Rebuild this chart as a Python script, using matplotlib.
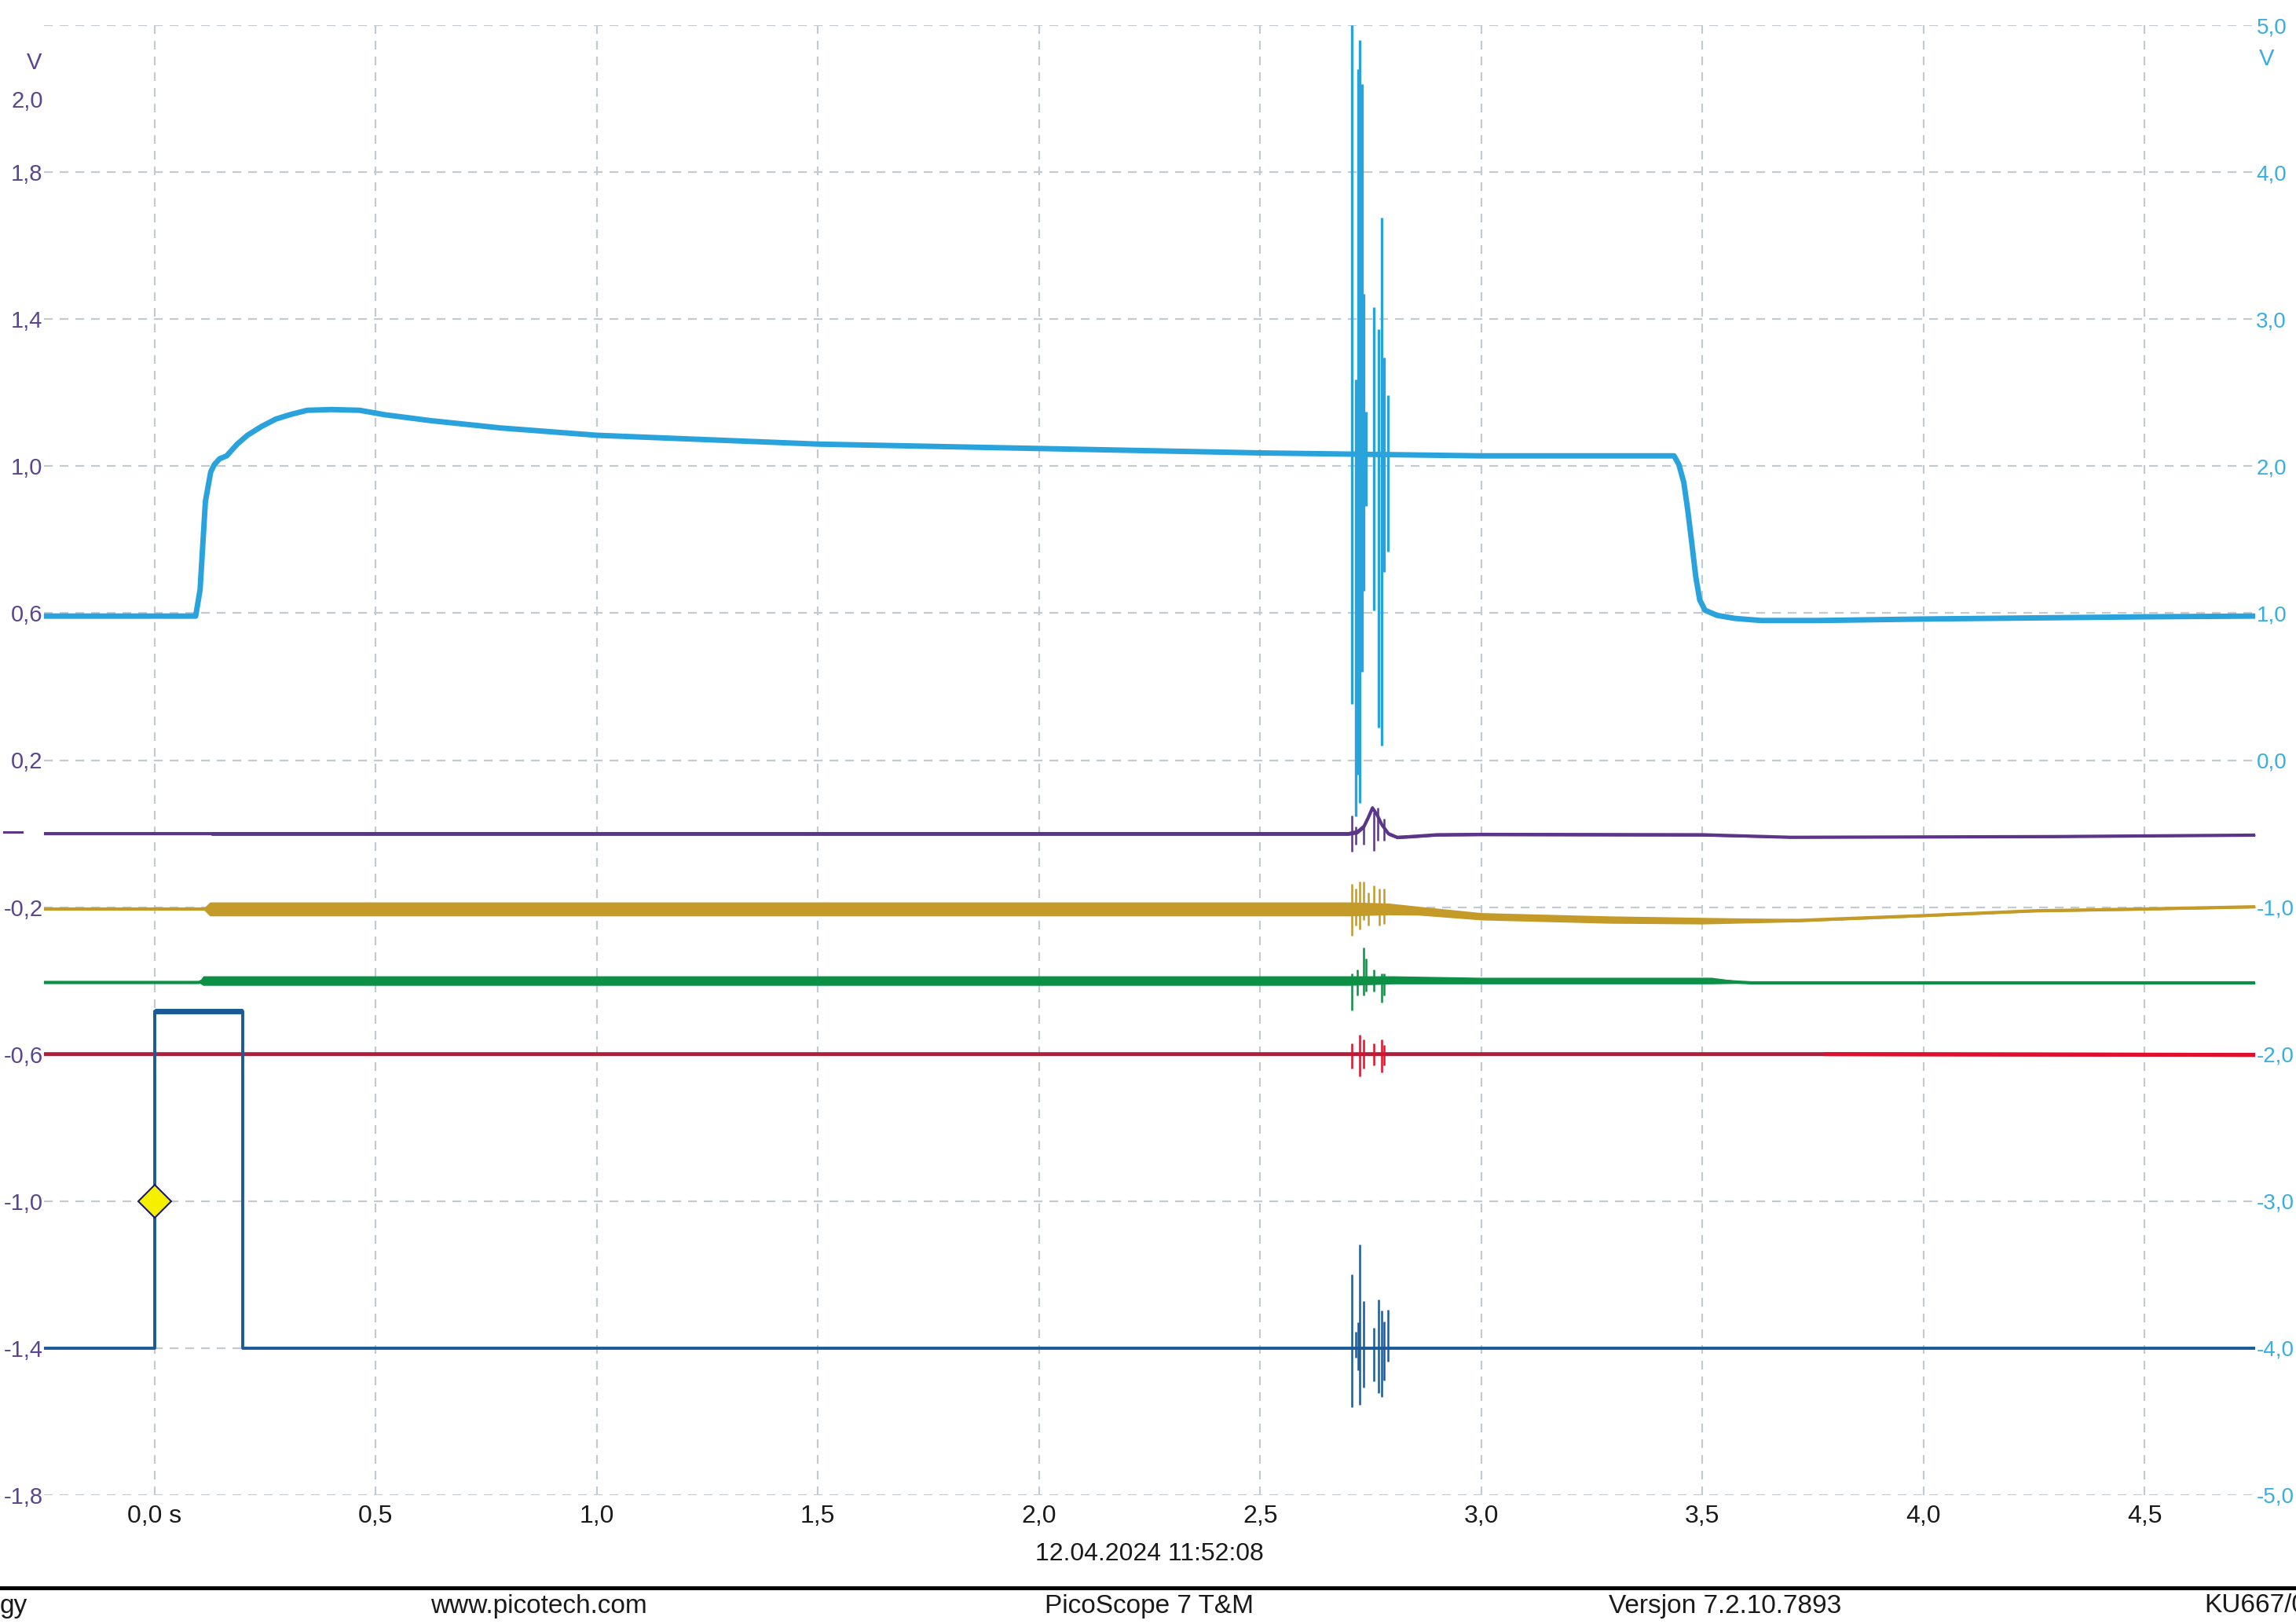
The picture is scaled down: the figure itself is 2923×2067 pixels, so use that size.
import matplotlib
matplotlib.use("Agg")
import matplotlib.pyplot as plt
from matplotlib.lines import Line2D

plt.rcParams['font.family'] = ['Liberation Sans', 'DejaVu Sans']

# ---- axis scales (PicoScope screen) ----
x_ticks = [0.0, 0.5, 1.0, 1.5, 2.0, 2.5, 3.0, 3.5, 4.0, 4.5]
x_labels = ["0,0 s", "0,5", "1,0", "1,5", "2,0", "2,5", "3,0", "3,5", "4,0", "4,5"]
left_grid = [-1.8, -1.4, -1.0, -0.6, -0.2, 0.2, 0.6, 1.0, 1.4, 1.8, 2.2]
left_ticks = [-1.8, -1.4, -1.0, -0.6, -0.2, 0.2, 0.6, 1.0, 1.4, 1.8, 2.0]
left_labels = ["-1,8", "-1,4", "-1,0", "-0,6", "-0,2", "0,2", "0,6", "1,0", "1,4", "1,8", "2,0"]
right_ticks = [-5, -4, -3, -2, -1, 0, 1, 2, 3, 4, 5]
right_labels = ["-5,0", "-4,0", "-3,0", "-2,0", "-1,0", "0,0", "1,0", "2,0", "3,0", "4,0", "5,0"]

# ---- light blue channel (right axis, V) ----
lb_t = [-0.25, 0.093, 0.103, 0.115, 0.127, 0.135, 0.147, 0.163, 0.187, 0.21, 0.242,
        0.274, 0.306, 0.345, 0.40, 0.464, 0.52, 0.623, 0.782, 1.0, 1.25, 1.5, 2.0, 2.5,
        3.0, 3.436, 3.447, 3.458, 3.467, 3.476, 3.485, 3.494, 3.506, 3.533, 3.574, 3.633,
        3.764, 4.0, 4.5, 4.75]
lb_v = [0.98, 0.98, 1.16, 1.76, 1.96, 2.01, 2.05, 2.07, 2.15, 2.21, 2.27,
        2.32, 2.35, 2.38, 2.385, 2.38, 2.35, 2.31, 2.26, 2.21, 2.18, 2.15, 2.12, 2.09,
        2.07, 2.07, 2.01, 1.89, 1.70, 1.48, 1.25, 1.09, 1.02, 0.985, 0.964, 0.95,
        0.95, 0.96, 0.975, 0.98]
lb_spk_t = [2.707, 2.716, 2.722, 2.726, 2.730, 2.734, 2.740, 2.757, 2.767, 2.775, 2.780, 2.789]
lb_spk_lo = [0.38, -0.38, -0.10, -0.29, 0.60, 1.15, 1.73, 1.02, 0.22, 0.10, 1.28, 1.42]
lb_spk_hi = [5.0, 2.59, 4.70, 4.90, 4.60, 3.17, 2.37, 3.08, 2.93, 3.69, 2.74, 2.48]

# ---- purple channel (left axis, V) ----
pu_t = [-0.25, 0.12, 0.13, 2.70, 2.72, 2.735, 2.745, 2.754, 2.765, 2.775, 2.79, 2.81,
        2.84, 2.9, 3.0, 3.5, 3.7, 4.3, 4.75]
pu_c = [0.0, 0.0, 0.0, 0.0, 0.005, 0.02, 0.045, 0.07, 0.05, 0.025, 0.0, -0.01,
        -0.008, -0.003, -0.002, -0.003, -0.01, -0.008, -0.004]
pu_h = [0.0, 0.0, 0.005, 0.005, 0.006, 0.006, 0.006, 0.006, 0.006, 0.005, 0.005, 0.004,
        0.004, 0.004, 0.004, 0.004, 0.002, 0.002, 0.002]
pu_spk_t = [2.707, 2.716, 2.734, 2.757, 2.766, 2.78]
pu_spk_lo = [-0.05, -0.03, -0.03, -0.046, -0.02, -0.02]
pu_spk_hi = [0.05, 0.02, 0.02, 0.057, 0.07, 0.04]

# ---- gold channel (left axis, V) ----
go_t = [-0.25, 0.11, 0.125, 2.70, 2.79, 2.86, 3.0, 3.29, 3.5, 3.72, 4.0, 4.25, 4.5, 4.75]
go_c = [-0.205, -0.205, -0.205, -0.205, -0.205, -0.21, -0.225, -0.234, -0.237, -0.236,
        -0.223, -0.21, -0.205, -0.199]
go_h = [0.001, 0.001, 0.019, 0.019, 0.016, 0.012, 0.010, 0.010, 0.009, 0.004, 0.003, 0.003,
        0.003, 0.003]
go_spk_t = [2.707, 2.716, 2.726, 2.734, 2.745, 2.757, 2.77, 2.78]
go_spk_lo = [-0.278, -0.25, -0.26, -0.235, -0.25, -0.22, -0.25, -0.245]
go_spk_hi = [-0.136, -0.15, -0.13, -0.13, -0.16, -0.14, -0.15, -0.15]

# ---- green channel (left axis, V) ----
gr_t = [-0.25, 0.10, 0.11, 2.70, 2.80, 3.0, 3.52, 3.61, 4.75]
gr_c = [-0.405, -0.405, -0.40, -0.40, -0.398, -0.40, -0.40, -0.406, -0.406]
gr_h = [0.001, 0.001, 0.013, 0.013, 0.011, 0.009, 0.009, 0.001, 0.001]
gr_spk_t = [2.707, 2.72, 2.734, 2.74, 2.757, 2.775, 2.78]
gr_spk_lo = [-0.48, -0.44, -0.44, -0.43, -0.43, -0.46, -0.44]
gr_spk_hi = [-0.38, -0.37, -0.31, -0.34, -0.37, -0.38, -0.38]

# ---- red channel (left axis, V) ----
re_t = [-0.25, 3.78, 4.75]
re_c = [-0.60, -0.60, -0.602]
re_spk_t = [2.707, 2.726, 2.734, 2.757, 2.775, 2.78]
re_spk_lo = [-0.64, -0.66, -0.64, -0.63, -0.65, -0.63]
re_spk_hi = [-0.57, -0.547, -0.56, -0.57, -0.56, -0.575]

# ---- dark blue channel (left axis, V) ----
db_t = [-0.25, 0.0, 0.0, 0.199, 0.199, 4.75]
db_v = [-1.4, -1.4, -0.483, -0.483, -1.4, -1.4]
db_spk_t = [2.707, 2.716, 2.722, 2.726, 2.734, 2.757, 2.767, 2.775, 2.780, 2.789]
db_spk_lo = [-1.56, -1.426, -1.46, -1.554, -1.508, -1.49, -1.522, -1.533, -1.487, -1.437]
db_spk_hi = [-1.2, -1.355, -1.33, -1.117, -1.272, -1.344, -1.268, -1.298, -1.327, -1.295]

# trigger marker
trig_t = [0.0]
trig_v = [-1.0]

C_LB = '#2aa3dc'
C_PU = '#5b3589'
C_GO = '#c49b28'
C_GR = '#0b9045'
C_RE = '#b01e3c'
C_RE2 = '#e0102c'
C_DB = '#1b5a98'
C_GRID = '#c3cbd0'
C_LTXT = '#5a4690'
C_RTXT = '#3aaee0'
C_TXT = '#1a1a1a'

W, H = 2923, 2067
fig = plt.figure(figsize=(W / 100, H / 100), dpi=100)
fig.patch.set_facecolor('white')
ax = fig.add_axes([56 / W, 164 / H, (2871 - 56) / W, (1903 - 32) / H])
ax.set_xlim(-0.25, 4.75)
ax.set_ylim(-1.8, 2.2)
for s in ax.spines.values():
    s.set_visible(False)

for t in x_ticks:
    ax.axvline(t, color=C_GRID, lw=1.6, ls=(0, (5, 4)), zorder=0)
for v in left_grid:
    ax.axhline(v, color=C_GRID, lw=1.6, ls=(0, (5, 4)), zorder=0)

ax.set_xticks(x_ticks)
ax.set_xticklabels(x_labels, fontsize=23, color=C_TXT)
ax.set_yticks(left_ticks)
ax.set_yticklabels(left_labels, fontsize=21, color=C_LTXT)
ax.tick_params(axis='both', length=0)
ax.tick_params(axis='x', pad=9)
ax.tick_params(axis='y', pad=1)


def band(t, c, h, color, lw, z):
    lo = [a - b for a, b in zip(c, h)]
    hi = [a + b for a, b in zip(c, h)]
    ax.fill_between(t, lo, hi, color=color, lw=0, zorder=z)
    ax.plot(t, c, color=color, lw=lw, zorder=z, solid_capstyle='butt')


ax.plot(re_t, re_c, color=C_RE, lw=3.6, zorder=2)
ax.plot(re_t[1:], re_c[1:], color=C_RE2, lw=3.6, zorder=2)
ax.vlines(re_spk_t, re_spk_lo, re_spk_hi, color=C_RE2, lw=1.8, zorder=2)

band(gr_t, gr_c, gr_h, C_GR, 3.0, 2)
ax.vlines(gr_spk_t, gr_spk_lo, gr_spk_hi, color=C_GR, lw=1.8, zorder=2)

band(go_t, go_c, go_h, C_GO, 3.0, 2)
ax.vlines(go_spk_t, go_spk_lo, go_spk_hi, color=C_GO, lw=1.8, zorder=2)

band(pu_t, pu_c, pu_h, C_PU, 3.0, 3)
ax.vlines(pu_spk_t, pu_spk_lo, pu_spk_hi, color=C_PU, lw=1.8, zorder=3)

ax.plot(db_t, db_v, color=C_DB, lw=2.8, zorder=3)
ax.plot(db_t[2:4], db_v[2:4], color=C_DB, lw=5, zorder=3, solid_capstyle='butt')
ax.vlines(db_spk_t, db_spk_lo, db_spk_hi, color=C_DB, lw=1.8, zorder=3)

ax.plot(trig_t, trig_v, marker='D', ms=21, mfc='#f6f000', mec='#1a1a70', mew=1.5,
        ls='none', zorder=5)

# right axis, light blue channel
ax2 = ax.twinx()
ax2.set_ylim(-5, 5)
for s in ax2.spines.values():
    s.set_visible(False)
ax2.set_yticks(right_ticks)
ax2.set_yticklabels(right_labels, fontsize=20, color=C_RTXT)
ax2.tick_params(axis='y', length=0, pad=1)
ax2.plot(lb_t, lb_v, color=C_LB, lw=5, zorder=4, solid_joinstyle='round')
ax2.vlines(lb_spk_t, lb_spk_lo, lb_spk_hi, color=C_LB, lw=2.4, zorder=4)

# unit labels and zero marker
fig.text(34 / W, 1 - 80 / H, "V", fontsize=21, color=C_LTXT, ha='left', va='center')
fig.text(2876 / W, 1 - 75 / H, "V", fontsize=21, color=C_RTXT, ha='left', va='center')
y0 = 1 - 1059 / H
fig.add_artist(Line2D([5 / W, 28 / W], [y0, y0], color=C_PU, lw=2.2))

# date and footer
fig.text(0.5005, 1 - 1978 / H, "12.04.2024 11:52:08", fontsize=23, color=C_TXT,
         ha='center', va='center')
fig.add_artist(Line2D([0, 1], [1 - 2021 / H, 1 - 2021 / H], color='black', lw=3.6))
yf = 1 - 2044 / H
fig.text(0.0, yf, "gy", fontsize=24, ha='left', va='center', color=C_TXT)
fig.text(686 / W, yf, "www.picotech.com", fontsize=24, ha='center', va='center', color=C_TXT)
fig.text(1463 / W, yf, "PicoScope 7 T&M", fontsize=24, ha='center', va='center', color=C_TXT)
fig.text(2196 / W, yf, "Versjon 7.2.10.7893", fontsize=24, ha='center', va='center', color=C_TXT)
fig.text(2806 / W, yf, "KU667/0", fontsize=24, ha='left', va='center', color=C_TXT)

fig.savefig("out.png", dpi=100)
